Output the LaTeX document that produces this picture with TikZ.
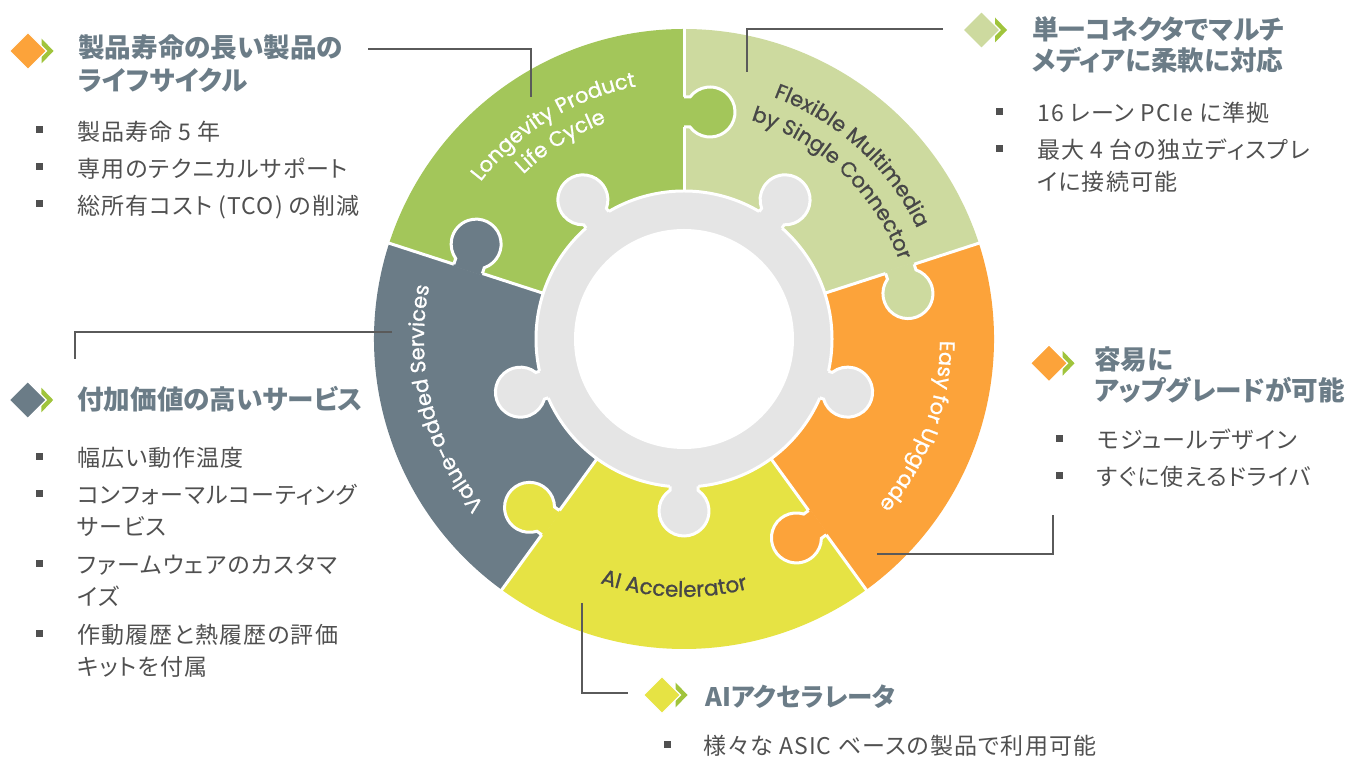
\documentclass[tikz,border=0pt]{standalone}
\usepackage{fontspec}
\usetikzlibrary{decorations.text}
\newfontfamily\jpfont{Noto Sans CJK JP}[RawFeature=+palt]
\newfontfamily\jpitem{Noto Sans CJK JP}[RawFeature=+palt, LetterSpace=5]
\newfontfamily\segfont{Poppins}[FakeBold=0.9]
\definecolor{cGreen}{HTML}{A3C65A}
\definecolor{cLight}{HTML}{CDDA9F}
\definecolor{cOrange}{HTML}{FCA33A}
\definecolor{cYellow}{HTML}{E6E344}
\definecolor{cSlate}{HTML}{6B7C87}
\definecolor{cRing}{HTML}{E5E5E5}
\definecolor{cChev}{HTML}{A0C43C}
\definecolor{cText}{HTML}{505050}
\definecolor{cDark}{HTML}{474747}
\definecolor{cLine}{HTML}{5A5A5A}
\begin{document}
\begin{tikzpicture}[x=1pt,y=1pt,
  head/.style={anchor=base west, inner sep=0pt, text=cSlate, font=\jpfont\bfseries\fontsize{26.6}{26.6}\selectfont},
  item/.style={anchor=base west, inner sep=0pt, text=cText, font=\jpitem\fontsize{23}{23}\selectfont},
  sq/.style={fill=cText, minimum size=7pt, inner sep=0pt, draw=none},
  conn/.style={draw=cLine, line width=1.2pt},
  sepline/.style={draw=white, line width=3pt},
  seglabel/.style={decorate, decoration={text along path, text align=center, text color=#1}},
]
\useasboundingbox (0,0) rectangle (1347,760);
\coordinate (C) at (684,421);

% sectors
\foreach \a/\col in {18/cLight, 90/cGreen, 162/cSlate, 234/cYellow, 306/cOrange}{
  \fill[\col] (C) -- ++(\a:310) arc[start angle=\a, end angle=\a+72, radius=310] -- cycle;
}
\foreach \a in {18,90,162,234,306}{
  \draw[sepline] (C) -- ++(\a:313);
}
% puzzle tabs on the outer pieces
\foreach \a/\col in {18/cLight, 90/cGreen, 162/cSlate, 234/cYellow, 306/cOrange}{
  \begin{scope}[shift={(C)}, rotate=\a]
    \fill[\col] (212,2) -- (212,-6) arc[start angle=126.87, end angle=413.13, radius=25] -- (242,2) -- cycle;
    \draw[white, line width=3pt] (212,0) -- (212,-6) arc[start angle=126.87, end angle=413.13, radius=25] -- (242,0);
  \end{scope}
}
% gray ring with knobs
\fill[cRing, draw=white, line width=3pt] (C) circle[radius=148];
\foreach \m in {54,126,198,270,342}{
  \begin{scope}[shift={(C)}, rotate=\m]
    \fill[cRing] (140,-14) -- (151.3,-14) arc[start angle=214.1, end angle=505.9, radius=25] -- (140,14) -- cycle;
    \draw[white, line width=3pt] (147.3,-14) -- (151.3,-14) arc[start angle=214.1, end angle=505.9, radius=25] -- (147.3,14);
  \end{scope}
}
\fill[white] (C) circle[radius=110];

% segment labels
\path[shift={(C)}, seglabel=white, decoration={text={|\segfont\fontsize{21}{21}\selectfont|Longevity Product}}]
  (171.5:257) arc[start angle=171.5, end angle=71.5, radius=257];
\path[shift={(C)}, seglabel=white, decoration={text={|\segfont\fontsize{21}{21}\selectfont|Life Cycle}}]
  (172:230) arc[start angle=172, end angle=72, radius=230];
\path[shift={(C)}, seglabel=cDark, decoration={text={|\segfont\fontsize{21}{21}\selectfont|Flexible Multimedia}}]
  (97.5:258) arc[start angle=97.5, end angle=-2.5, radius=258];
\path[shift={(C)}, seglabel=cDark, decoration={text={|\segfont\fontsize{21}{21}\selectfont|by Single Connector}}]
  (96.5:229) arc[start angle=96.5, end angle=-3.5, radius=229];
\path[shift={(C)}, seglabel=white, decoration={text={|\segfont\fontsize{21}{21}\selectfont|Value-added Services}}]
  (254:260) arc[start angle=254, end angle=134, radius=260];
\path[shift={(C)}, seglabel=white, decoration={text={|\segfont\fontsize{21}{21}\selectfont|Easy for Upgrade}}]
  (39.6:256) arc[start angle=39.6, end angle=-80.4, radius=256];
\path[shift={(C)}, seglabel=cDark, decoration={text={|\segfont\fontsize{21.5}{21.5}\selectfont|AI Accelerator}}]
  (217.7:258) arc[start angle=217.7, end angle=317.7, radius=258];

% connectors
\coordinate (p1) at (531,663); \coordinate (q1) at (368,711);
\draw[conn] (p1) |- (q1);
\coordinate (p2) at (747,688); \coordinate (q2) at (943,731);
\draw[conn] (p2) |- (q2);
\coordinate (p3) at (392,428); \coordinate (q3) at (75,401);
\draw[conn] (p3) -| (q3);
\coordinate (p4) at (877,206); \coordinate (q4) at (1053,245);
\draw[conn] (p4) -| (q4);
\coordinate (p5) at (582,157); \coordinate (q5) at (628,67);
\draw[conn] (p5) |- (q5);

% heading icons
\foreach \n/\cx/\cy/\col in {i1/28/709/cOrange, i2/981.5/730/cLight, i3/27.7/360/cSlate, i4/1049/396.7/cOrange, i5/662/65/cYellow}{
  \fill[cChev] (\cx+13.7,\cy+12.3) -- (\cx+25.5,\cy) -- (\cx+13.7,\cy-12.3) -- cycle;
  \fill[\col, draw=white, line width=1.2pt] (\cx-18.5,\cy) -- (\cx,\cy+18.5) -- (\cx+18.5,\cy) -- (\cx,\cy-18.5) -- cycle;
}

% headings
\node[head] (h1a) at (78,702) {製品寿命の長い製品の};
\node[head] (h1b) at (78,669.5) {ライフサイクル};
\node[head] (h2a) at (1032,720) {単一コネクタでマルチ};
\node[head] (h2b) at (1032,689) {メディアに柔軟に対応};
\node[head] (h3a) at (77,350) {付加価値の高いサービス};
\node[head] (h4a) at (1094,390.5) {容易に};
\node[head] (h4b) at (1094,359) {アップグレードが可能};
\node[head, font=\jpfont\bfseries\fontsize{25.5}{25.5}\selectfont] (h5a) at (705,53.5) {AIアクセラレータ};

% bullet items
\node[sq] (s11) at (39.5,630) {};
\node[item] (t11) at (77,619.5) {製品寿命 5 年};
\node[sq] (s12) at (39.5,593) {};
\node[item] (t12) at (77,582.5) {専用のテクニカルサポート};
\node[sq] (s13) at (39.5,556) {};
\node[item] (t13) at (77,545.5) {総所有コスト (TCO) の削減};

\node[sq] (s21) at (999.3,648.3) {};
\node[item] (t21) at (1037,638.3) {16 レーン PCIe に準拠};
\node[sq] (s22) at (999.3,611) {};
\node[item] (t22) at (1037,601) {最大 4 台の独立ディスプレ};
\node[item] (t22b) at (1037,569) {イに接続可能};

\node[sq] (s31) at (39.5,303.5) {};
\node[item] (t31) at (77,293) {幅広い動作温度};
\node[sq] (s32) at (39.5,266.5) {};
\node[item] (t32) at (77,256) {コンフォーマルコーティング};
\node[item] (t32b) at (77,224) {サービス};
\node[sq] (s33) at (39.5,196.5) {};
\node[item] (t33) at (77,186) {ファームウェアのカスタマ};
\node[item] (t33b) at (77,154) {イズ};
\node[sq] (s34) at (39.5,126.5) {};
\node[item] (t34) at (77,116) {作動履歴と熱履歴の評価};
\node[item] (t34b) at (77,84) {キットを付属};

\node[sq] (s41) at (1059,321) {};
\node[item] (t41) at (1097,311) {モジュールデザイン};
\node[sq] (s42) at (1059,284) {};
\node[item] (t42) at (1097,274) {すぐに使えるドライバ};

\node[sq] (s51) at (667,15.5) {};
\node[item] (t51) at (703,5) {様々な ASIC ベースの製品で利用可能};
\end{tikzpicture}
\end{document}
